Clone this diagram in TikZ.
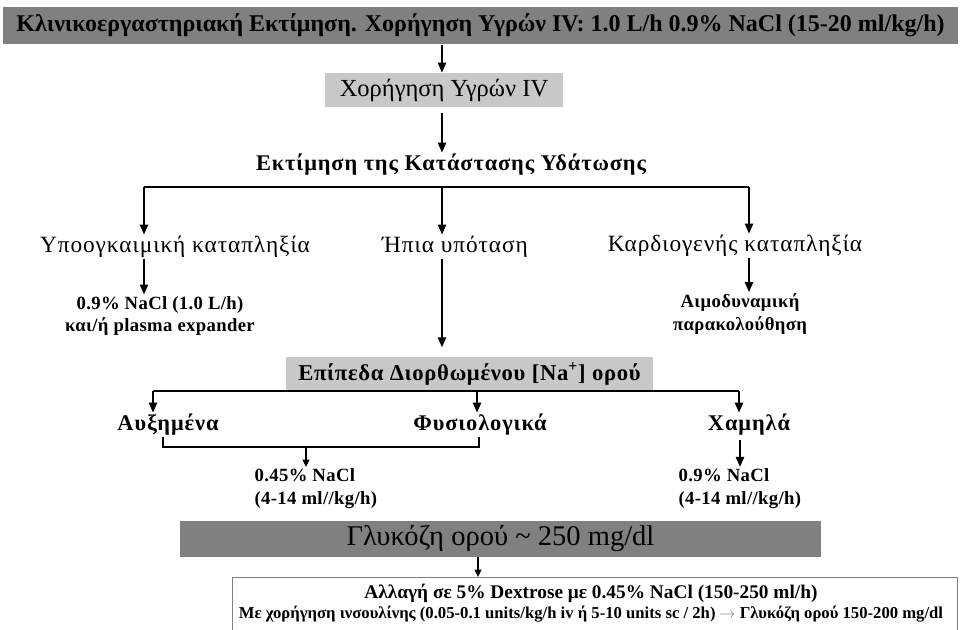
\documentclass[tikz,border=0pt]{standalone}
\usepackage{fontspec}
\setmainfont{Liberation Serif}
\usetikzlibrary{arrows.meta}
\definecolor{boxdark}{HTML}{808080}
\definecolor{boxlight}{HTML}{C8C8C8}

\begin{document}
\begin{tikzpicture}[x=0.75pt,y=-0.75pt,
  darkbox/.style={fill=boxdark, inner sep=0pt},
  lightbox/.style={fill=boxlight, inner sep=0pt},
  head/.style={font=\fontsize{16.8}{20}\selectfont\bfseries\addfontfeature{LetterSpace=4}, inner sep=1pt},
  state/.style={font=\fontsize{17.5}{21}\selectfont\addfontfeature{LetterSpace=4}, inner sep=1pt},
  small/.style={font=\fontsize{14}{17}\selectfont\bfseries\addfontfeature{LetterSpace=2}, inner sep=1pt},
  arr/.style={-{Triangle[length=7.5pt,width=6pt]}, line width=1.6pt},
  tinyarr/.style={-{Triangle[length=5.5pt,width=5pt]}, line width=1.2pt},
  bus/.style={line width=0.9pt}]

\useasboundingbox (0,0) rectangle (961,630);

\node[darkbox, minimum width=716.25pt, minimum height=27.75pt, font=\fontsize{18}{21}\selectfont\bfseries] (start) at (480.5,25.5)
  {Κλινικοεργαστηριακή Εκτίμηση. Χορήγηση Υγρών IV: 1.0 L/h 0.9\% NaCl (15-20 ml/kg/h)};
\node[lightbox, minimum width=178.5pt, minimum height=25.5pt, font=\fontsize{18.4}{22}\selectfont] (fluids) at (444,90) {Χορήγηση Υγρών IV};
\node[head] (hydr) at (451,165) {Εκτίμηση της Κατάστασης Υδάτωσης};

\coordinate (a1) at (442,45);
\draw[arr] (a1) -- (a1 |- fluids.north);
\coordinate (a2) at (442,113);
\draw[arr] (a2) -- (a2 |- hydr.north);

\coordinate (busL) at (144,187);
\coordinate (busM) at (442,187);
\coordinate (busR) at (749,187);
\draw[bus] (busL) -- (busR);

\node[state] (hypo) at (175,247) {Υποογκαιμική καταπληξία};
\node[state] (mild) at (455,247) {Ήπια υπόταση};
\node[state] (cardio) at (735,246) {Καρδιογενής καταπληξία};

\draw[arr] (busL) -- (busL |- hypo.north);
\draw[arr] (busM) -- (busM |- mild.north);
\draw[arr] (busR) -- (busR |- cardio.north);

\node[small, align=center] (hypotx) at (160,316) {0.9\% NaCl (1.0 L/h)\\και/ή plasma expander};
\node[small, align=center] (cardiotx) at (740,314) {Αιμοδυναμική\\παρακολούθηση};

\draw[arr] (busL |- hypo.south) -- (busL |- hypotx.north);
\draw[arr] (busR |- cardio.south) -- (busR |- cardiotx.north);

\node[lightbox, minimum width=275.25pt, minimum height=25.5pt, font=\fontsize{17}{20}\selectfont\bfseries\addfontfeature{LetterSpace=3}] (sodium) at (469.5,374) {Επίπεδα Διορθωμένου [Na\textsuperscript{+}] ορού};
\draw[arr, shorten >=7pt] (busM |- mild.south) -- (busM |- sodium.north);

\coordinate (nbL) at (153,391);
\coordinate (nbM) at (477,391);
\coordinate (nbR) at (739,391);
\draw[bus] (nbL) -- (nbR);

\node[head] (high) at (168,425) {Αυξημένα};
\node[head] (normal) at (480,425) {Φυσιολογικά};
\node[head] (low) at (749,425) {Χαμηλά};

\draw[arr] (nbL) -- (nbL |- high.north);
\draw[arr] (nbM) -- (nbM |- normal.north);
\draw[arr] (nbR) -- (nbR |- low.north);

\coordinate (brL) at (163,447);
\coordinate (brM) at (306,447);
\coordinate (brR) at (479,447);
\draw[bus] (brL |- high.south) -- (brL) -- (brR) -- (brR |- normal.south);

\node[small, align=left, anchor=north west] (halfsal) at (253,467) {0.45\% NaCl\\(4-14 ml//kg/h)};
\node[small, align=left, anchor=north west] (normsal) at (677,467) {0.9\% NaCl\\(4-14 ml//kg/h)};

\draw[tinyarr] (brM) -- (brM |- halfsal.north);
\coordinate (lw) at (740,440);
\draw[arr] (lw) -- (lw |- normsal.north);

\node[darkbox, minimum width=480.75pt, minimum height=27pt, font=\fontsize{21.4}{25}\selectfont] (gluc) at (500.5,539) {Γλυκόζη ορού \textasciitilde{} 250 mg/dl};

\node[draw=boxdark, line width=0.9pt, fill=white, minimum width=543.75pt, minimum height=51pt, anchor=north west] (changebox) at (232,577) {};
\node[font=\fontsize{12.5}{15}\selectfont\bfseries, align=center, inner sep=1pt] (change) at (591,603) {{\fontsize{14.5}{15}\selectfont Αλλαγή σε 5\% Dextrose με 0.45\% NaCl (150-250 ml/h)}\\
  Με χορήγηση ινσουλίνης (0.05-0.1 units/kg/h iv ή 5-10 units sc / 2h) {\color{gray}$\rightarrow$} Γλυκόζη ορού 150-200 mg/dl};

\coordinate (g1) at (478,557);
\draw[tinyarr] (g1) -- (g1 |- changebox.north);

\end{tikzpicture}
\end{document}
